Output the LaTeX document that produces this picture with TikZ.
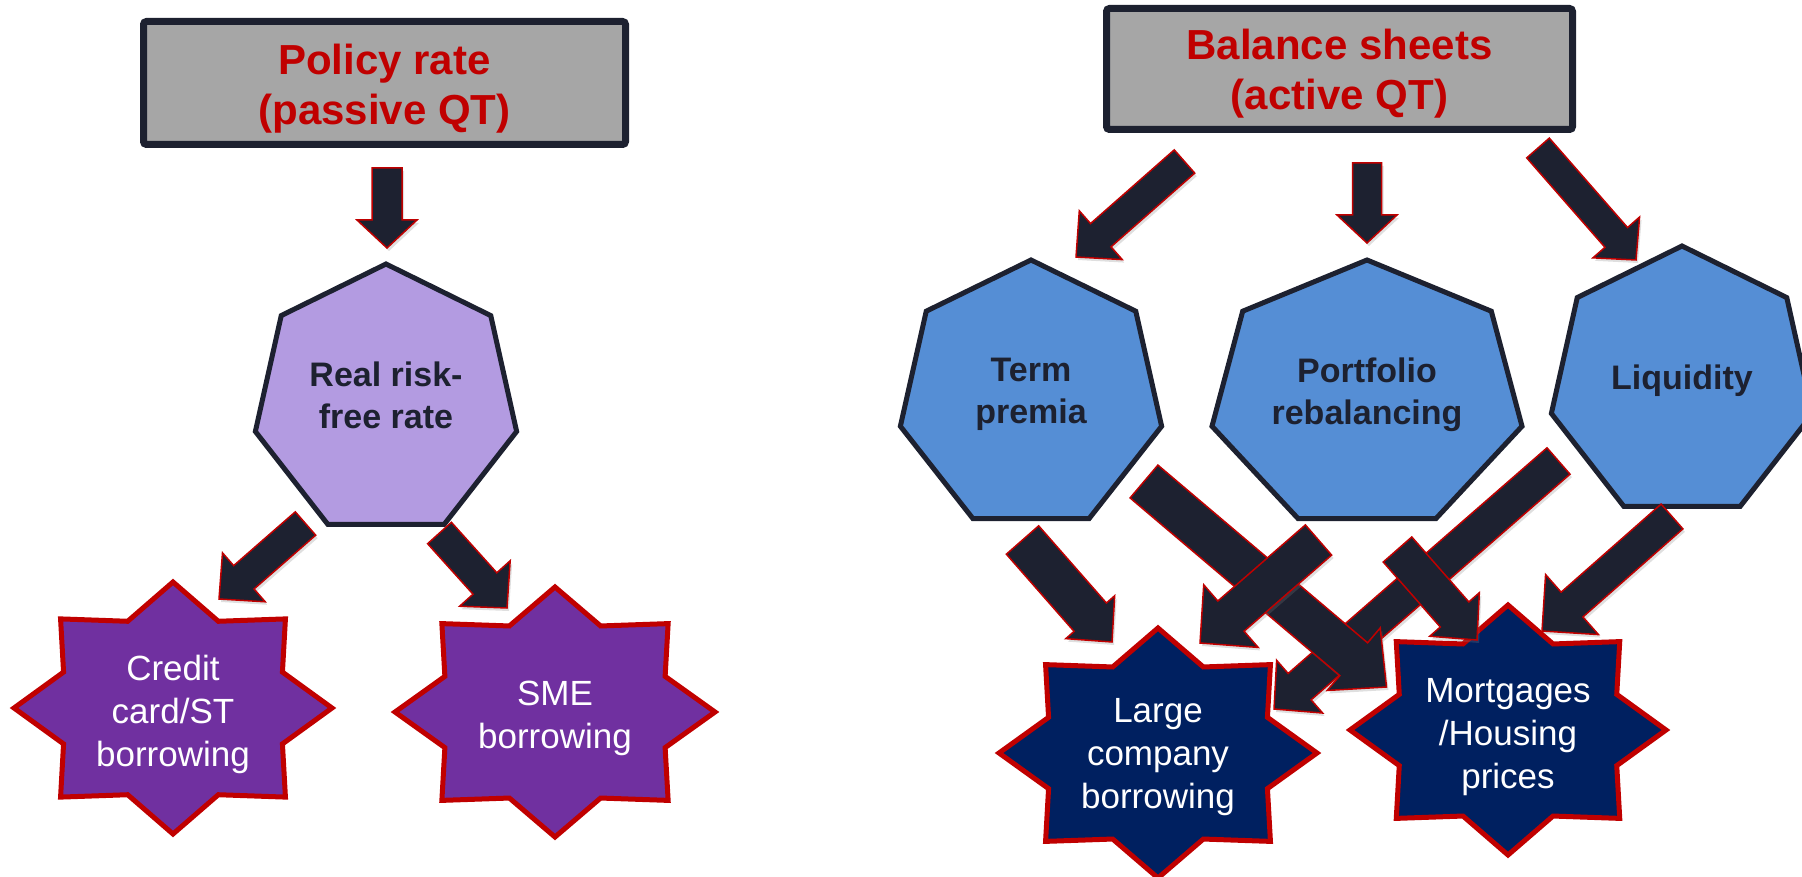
\documentclass[tikz,border=0pt]{standalone}
\usepackage{fontspec}
\setmainfont{Liberation Sans}
\usetikzlibrary{calc,shadows}
\definecolor{qtdark}{RGB}{29,33,48}
\definecolor{qtred}{RGB}{192,0,0}
\definecolor{qtgray}{RGB}{166,166,166}
\definecolor{qtlilac}{RGB}{179,155,225}
\definecolor{qtblue}{RGB}{85,142,213}
\definecolor{qtpurple}{RGB}{112,48,160}
\definecolor{qtnavy}{RGB}{0,32,96}

\begin{document}
\begin{tikzpicture}[
  x = 1pt, y = -1pt,
  ratebox/.style = {draw = qtdark, line width = 7pt, fill = qtgray, rounded corners = 3pt, inner sep = 0pt},
  boxtext/.style = {align = center, inner sep = 0pt, text = qtred, font = {\fontsize{42}{50}\selectfont\bfseries}},
  heptagon/.style = {draw = qtdark, line width = 5pt, fill = #1, line join = miter},
  hepttext/.style = {align = center, inner sep = 0pt, text = qtdark, font = {\fontsize{34}{42}\selectfont\bfseries}},
  burst/.style = {draw = qtred, line width = 5pt, fill = #1, line join = miter},
  bursttext/.style = {align = center, inner sep = 0pt, text = white, font = {\fontsize{35}{43}\selectfont}},
  blockarrow/.style = {draw = qtred, line width = 1.5pt, fill = qtdark, line join = miter,
    drop shadow = {shadow xshift = 2pt, shadow yshift = -3pt, opacity = 0.25}}
  ]
  \useasboundingbox (0,0) rectangle (1802,877);

  %top boxes
  \node[ratebox, minimum width = 482pt, minimum height = 123pt] (policy) at (384.5,83) {};
  \node[ratebox, minimum width = 466pt, minimum height = 121pt] (balance) at (1339.5,69) {};
  \node[boxtext] (policytxt) at (384.5,89) {Policy rate\\(passive QT)};
  \node[boxtext] (balancetxt) at (1339.5,74) {Balance sheets\\(active QT)};

  %heptagons
  \foreach \name/\cx/\cy/\rx/\ry/\col in {real/386/401/134/137/qtlilac, term/1031/396/134/136/qtblue,
      portfolio/1367/396/159/136/qtblue, liquidity/1682/383/134/137/qtblue}{
    \coordinate (\name) at (\cx,\cy);
    \draw[heptagon = \col, shift = {(\name)}] (-90:{\rx} and {\ry})
      \foreach \k in {1,...,6}{ -- ({-90+360/7*\k}:{\rx} and {\ry}) } -- cycle;
  }
  \node[hepttext] (realtxt) at (386,395) {Real risk-\\free rate};
  \node[hepttext] (termtxt) at (1031,394.5) {Term\\premia};
  \node[hepttext] (portfoliotxt) at (1367,394.5) {Portfolio\\rebalancing};
  \node[hepttext] (liquiditytxt) at (1682,381) {Liquidity};

  %stars
  \foreach \name/\cx/\cy/\rx/\ry/\col in {credit/173/708/159/126/qtpurple, sme/555/712/160/125/qtpurple,
      large/1158/753/159/125/qtnavy, mortgages/1508/730/158/125/qtnavy}{
    \coordinate (\name) at (\cx,\cy);
    \draw[burst = \col, shift = {(\name)}] (90:{\rx} and {\ry})
      \foreach \k [evaluate = \k as \fr using {1-0.255*mod(\k,2)}] in {1,...,15}{
        -- ({90+22.5*\k}:{\fr*\rx} and {\fr*\ry}) } -- cycle;
  }
  \node[bursttext] (credittxt) at (173,714) {Credit\\card/ST\\borrowing};
  \node[bursttext] (smetxt) at (555,718.5) {SME\\borrowing};
  \node[bursttext] (largetxt) at (1158,757) {Large\\company\\borrowing};
  \node[bursttext] (mortgagestxt) at (1508,737) {Mortgages\\/Housing\\prices};

  %arrows
  \coordinate (a1s) at (387,168);      \coordinate (a1e) at (387,248);
  \coordinate (a2s) at (305.5,523.5);  \coordinate (a2e) at (219,599);
  \coordinate (a3s) at (439.5,533);    \coordinate (a3e) at (507,608);
  \coordinate (b1s) at (1184.5,161.5); \coordinate (b1e) at (1076,257);
  \coordinate (b2s) at (1367,163);     \coordinate (b2e) at (1367,243);
  \coordinate (b3s) at (1538,148);     \coordinate (b3e) at (1636,260);
  \coordinate (c1s) at (1022.5,540);   \coordinate (c1e) at (1112,642);
  \coordinate (c2s) at (1144,481.5);   \coordinate (c2e) at (1386.5,687);
  \coordinate (c3s) at (1318.5,540);   \coordinate (c3e) at (1200,643);
  \coordinate (c4s) at (1558.5,461);   \coordinate (c4e) at (1274,709);
  \coordinate (c5s) at (1397.5,549.5); \coordinate (c5e) at (1477,640);
  \coordinate (c6s) at (1672,516.5);   \coordinate (c6e) at (1542,631);
  \foreach \tail/\tip/\sw/\hw/\hl in {a1s/a1e/15/30/28, a2s/a2e/15.5/32.5/33, a3s/a3e/16/34/33,
      b1s/b1e/15.5/32.5/33, b2s/b2e/14.5/30/28, b3s/b3e/15/31/30,
      c4s/c4e/17.5/35/34, c2s/c2e/21.5/41/43, c3s/c3e/20/41.5/41,
      c1s/c1e/21.5/32.5/33, c5s/c5e/19/33/34, c6s/c6e/16.5/40/40}{
    \coordinate (h) at ($(\tip)!\hl pt!(\tail)$);
    \draw[blockarrow] ($(\tail)!\sw pt!90:(\tip)$) -- ($(h)!\sw pt!-90:(\tail)$) -- ($(h)!\hw pt!-90:(\tail)$)
      -- (\tip) -- ($(h)!\hw pt!90:(\tail)$) -- ($(h)!\sw pt!90:(\tail)$) -- ($(\tail)!\sw pt!-90:(\tip)$) -- cycle;
  }
\end{tikzpicture}
\end{document}
